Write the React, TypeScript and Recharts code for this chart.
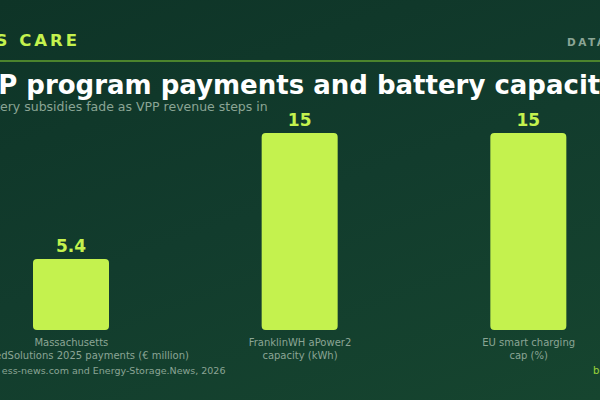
import { BarChart, Bar, XAxis, YAxis, LabelList } from "recharts";

// label lines per bar (first line, second line)
const labelTop = ["Massachusetts", "FranklinWH aPower2", "EU smart charging"];
const labelBottom = ["ConnectedSolutions 2025 payments (€ million)", "capacity (kWh)", "cap (%)"];
const values = [5.4, 15, 15];

const KICKER = "HOME BATTERIES CARE";
const TAG = "DATA DESK";
const TITLE = "VPP program payments and battery capacity";
const SUBTITLE = "Battery subsidies fade as VPP revenue steps in";
const SOURCE = "Source: ess-news.com and Energy-Storage.News, 2026";
const BYLINE = "bess.care";

const LIME = "#c4f24e";
const MUTED = "#8ba595";
const FONT = "'DejaVu Sans', sans-serif";

const data = values.map((v, i) => ({ name: labelTop[i] + "|" + labelBottom[i], value: v }));

function Tick({ x, y, payload }: any) {
  const [a, b] = String(payload.value).split("|");
  return (
    <text x={x} y={y} textAnchor="middle" fill={MUTED} fontSize={10} fontFamily={FONT}>
      <tspan x={x} dy={16}>{a}</tspan>
      <tspan x={x} dy={13}>{b}</tspan>
    </text>
  );
}

export default function App() {
  return (
    <div
      style={{
        position: "fixed",
        left: 0,
        top: 0,
        width: 600,
        height: 400,
        overflow: "hidden",
        background: "linear-gradient(160deg, #0e3427 0%, #123c2d 50%, #16452f 100%)",
        fontFamily: FONT,
      }}
    >
      <div style={{ position: "absolute", left: -100, top: 0 }}>
        <BarChart width={800} height={400} data={data} margin={{ top: 133, right: 57, bottom: 30, left: 57 }}>
          <XAxis dataKey="name" axisLine={false} tickLine={false} tickSize={0} tickMargin={0} height={40} interval={0} tick={<Tick />} />
          <YAxis hide domain={[0, 15]} />
          <Bar dataKey="value" fill={LIME} barSize={76} radius={[4, 4, 4, 4]} isAnimationActive={false}>
            <LabelList dataKey="value" position="top" offset={7} fill={LIME} fontSize={17} fontWeight="bold" fontFamily={FONT} />
          </Bar>
        </BarChart>
      </div>
      <svg width={600} height={400} style={{ position: "absolute", left: 0, top: 0, pointerEvents: "none" }}>
        <text x={80} y={46} textAnchor="end" fill={LIME} fontSize={16.5} fontWeight="bold" letterSpacing={3} fontFamily={FONT}>
          {KICKER}
        </text>
        <text x={567} y={46} fill={MUTED} fontSize={10.5} fontWeight="bold" letterSpacing={2.5} fontFamily={FONT}>
          {TAG}
        </text>
        <line x1={0} x2={600} y1={61} y2={61} stroke="#4c842d" strokeWidth={2} />
        <text x={-41} y={94} fill="#ffffff" fontSize={26} fontWeight="bold" fontFamily={FONT}>
          {TITLE}
        </text>
        <text x={-26} y={111} fill={MUTED} fontSize={12.5} fontFamily={FONT}>
          {SUBTITLE}
        </text>
        <text x={-37} y={374} fill={MUTED} fontSize={9.5} fontFamily={FONT}>
          {SOURCE}
        </text>
        <text x={593} y={374} fill="#9bd43a" fontSize={10} fontFamily={FONT}>
          {BYLINE}
        </text>
      </svg>
    </div>
  );
}
